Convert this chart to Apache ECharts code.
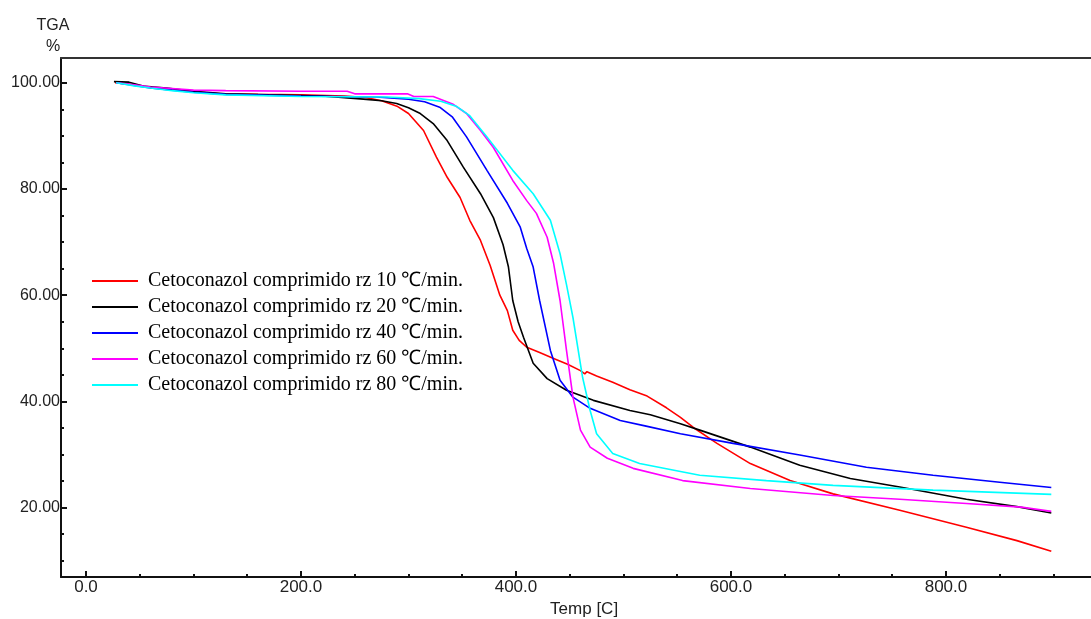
<!DOCTYPE html>
<html><head><meta charset="utf-8">
<script src="https://cdn.jsdelivr.net/npm/echarts@6/dist/echarts.min.js"></script>
<style>html,body{margin:0;padding:0;background:#fff}#c{width:1091px;height:619px}</style>
</head><body><div id="c"></div>
<script>
const seriesNames = [
  'Cetoconazol comprimido rz 10 ℃/min.',
  'Cetoconazol comprimido rz 20 ℃/min.',
  'Cetoconazol comprimido rz 40 ℃/min.',
  'Cetoconazol comprimido rz 60 ℃/min.',
  'Cetoconazol comprimido rz 80 ℃/min.'
];
const seriesColors = ['#ff0000', '#000000', '#0000ff', '#ff00ff', '#00ffff'];

// [Temp (C), TGA (%)]
const rate10 = [[27,100.0],[45,99.6],[60,99.1],[80,98.7],[100,98.3],[125,97.9],[160,97.8],[200,97.7],[240,97.5],[260,97.2],[275,96.6],[290,95.5],[300,94.2],[314,91.0],[326,86.0],[336,82.2],[348,78.4],[357,74.1],[367,70.3],[376,65.6],[385,60.0],[392,57.1],[397,53.4],[403,51.5],[410,50.2],[422,49.2],[435,48.1],[448,47.0],[460,45.8],[464,45.2],[466,45.6],[475,44.8],[490,43.6],[506,42.2],[522,41.0],[540,38.8],[553,37.0],[565,35.1],[587,32.1],[618,28.3],[655,25.1],[695,22.6],[757,19.5],[819,16.3],[866,13.8],[898,11.8]];
const rate20 = [[26,100.2],[40,100.1],[55,99.3],[75,99.0],[100,98.4],[130,97.9],[170,97.7],[220,97.5],[258,96.9],[275,96.6],[289,96.1],[300,95.3],[311,94.2],[323,92.3],[336,89.1],[351,84.1],[367,79.1],[379,74.6],[388,69.5],[393,65.3],[397,59.0],[402,55.0],[407,52.1],[416,47.2],[429,44.3],[447,42.1],[472,40.2],[506,38.3],[525,37.5],[553,35.8],[571,34.6],[618,31.4],[664,28.0],[711,25.5],[757,23.9],[819,21.6],[866,20.2],[898,19.0]];
const rate40 = [[28,100.0],[45,99.5],[60,99.0],[80,98.6],[100,98.2],[130,97.8],[200,97.5],[270,97.3],[300,96.9],[315,96.4],[329,95.4],[341,93.5],[354,89.8],[373,83.5],[392,77.3],[404,72.8],[410,68.8],[416,65.3],[422,59.0],[432,49.6],[441,44.0],[453,40.8],[469,38.7],[497,36.4],[520,35.4],[553,33.9],[602,32.1],[664,29.9],[726,27.6],[788,26.1],[850,24.8],[898,23.8]];
const rate60 = [[28,100.0],[45,99.6],[60,99.2],[80,98.9],[100,98.6],[130,98.5],[200,98.4],[243,98.4],[250,97.9],[299,97.9],[305,97.4],[323,97.4],[341,96.0],[354,94.2],[367,91.0],[379,87.8],[397,81.6],[410,77.8],[419,75.4],[429,70.9],[435,66.0],[441,59.0],[447,49.6],[453,40.8],[460,34.6],[469,31.4],[485,29.3],[509,27.4],[555,25.1],[618,23.6],[695,22.3],[757,21.6],[819,20.8],[870,20.1],[898,19.3]];
const rate80 = [[28,100.0],[45,99.4],[60,99.0],[80,98.5],[100,98.1],[130,97.7],[200,97.4],[280,97.3],[310,97.0],[330,96.5],[345,95.5],[357,93.8],[373,89.8],[397,83.5],[416,79.1],[432,74.1],[441,67.8],[447,62.0],[453,55.8],[462,44.5],[469,38.3],[475,33.9],[490,30.2],[515,28.3],[553,26.8],[571,26.1],[633,25.1],[695,24.2],[788,23.3],[898,22.5]];

const xMajorTicks = [0, 200, 400, 600, 800];
const xMinorTicks = [50, 100, 150, 250, 300, 350, 450, 500, 550, 650, 700, 750, 850, 900];
const yMajorTicks = [20, 40, 60, 80, 100];
const yMinorTicks = [10, 15, 25, 30, 35, 45, 50, 55, 65, 70, 75, 85, 90, 95];

const allData = [rate10, rate20, rate40, rate60, rate80];
const X_MIN = -23.25, X_MAX = 950, Y_MIN = 6.95, Y_MAX = 104.65;
const sansFont = '"Liberation Sans", Arial, sans-serif';
const axisColor = '#111';

const chart = echarts.init(document.getElementById('c'), null, {renderer: 'canvas'});
const option = {
  animation: false,
  backgroundColor: '#fff',
  grid: {left: 61, top: 58, right: -16.2, bottom: 42, containLabel: false, outerBoundsMode: 'none'},
  legend: {
    orient: 'vertical', left: 92, top: 271, padding: 0,
    icon: 'rect', itemWidth: 46, itemHeight: 2, itemGap: 6,
    textStyle: {fontFamily: '"Liberation Serif", "Times New Roman", serif', fontSize: 20, color: '#000', lineHeight: 20, padding: [0, 0, 0, 5]},
    data: seriesNames
  },
  xAxis: [
    {
      type: 'value', position: 'bottom', min: X_MIN, max: X_MAX,
      name: 'Temp [C]', nameLocation: 'middle', nameGap: 24,
      nameTextStyle: {fontFamily: sansFont, fontSize: 17, color: '#222'},
      axisLine: {show: true, onZero: false, lineStyle: {color: axisColor, width: 2}},
      axisTick: {show: true, inside: true, length: 6, customValues: xMajorTicks, lineStyle: {color: axisColor, width: 2}},
      axisLabel: {show: true, customValues: xMajorTicks, formatter: v => Number(v).toFixed(1), margin: 2, fontFamily: sansFont, fontSize: 17, color: '#222'},
      splitLine: {show: false}
    },
    {
      type: 'value', position: 'bottom', min: X_MIN, max: X_MAX,
      axisLine: {show: false, onZero: false},
      axisTick: {show: true, inside: true, length: 3, customValues: xMinorTicks, lineStyle: {color: axisColor, width: 2}},
      axisLabel: {show: false}, splitLine: {show: false}
    },
    {
      type: 'value', position: 'top', min: X_MIN, max: X_MAX,
      axisLine: {show: true, onZero: false, lineStyle: {color: '#333', width: 2}},
      axisTick: {show: false}, axisLabel: {show: false}, splitLine: {show: false}
    }
  ],
  yAxis: [
    {
      type: 'value', position: 'left', min: Y_MIN, max: Y_MAX,
      name: 'TGA\n%', nameLocation: 'end', nameGap: 1,
      nameTextStyle: {fontFamily: sansFont, fontSize: 16, color: '#222', align: 'center', verticalAlign: 'bottom', lineHeight: 21, padding: [0, 16, 0, 0]},
      axisLine: {show: true, onZero: false, lineStyle: {color: axisColor, width: 2}},
      axisTick: {show: true, inside: true, length: 6, customValues: yMajorTicks, lineStyle: {color: axisColor, width: 2}},
      axisLabel: {show: true, customValues: yMajorTicks, formatter: v => Number(v).toFixed(2), margin: 1, fontFamily: sansFont, fontSize: 16, color: '#222'},
      splitLine: {show: false}
    },
    {
      type: 'value', position: 'left', min: Y_MIN, max: Y_MAX,
      axisLine: {show: false, onZero: false},
      axisTick: {show: true, inside: true, length: 3, customValues: yMinorTicks, lineStyle: {color: axisColor, width: 2}},
      axisLabel: {show: false}, splitLine: {show: false}
    }
  ],
  series: allData.map((d, i) => ({
    name: seriesNames[i], type: 'line', data: d,
    xAxisIndex: 0, yAxisIndex: 0,
    symbol: 'none', smooth: false,
    color: seriesColors[i],
    lineStyle: {color: seriesColors[i], width: 1.6},
    z: 2 + i
  }))
};
chart.setOption(option);
</script>
</body></html>
